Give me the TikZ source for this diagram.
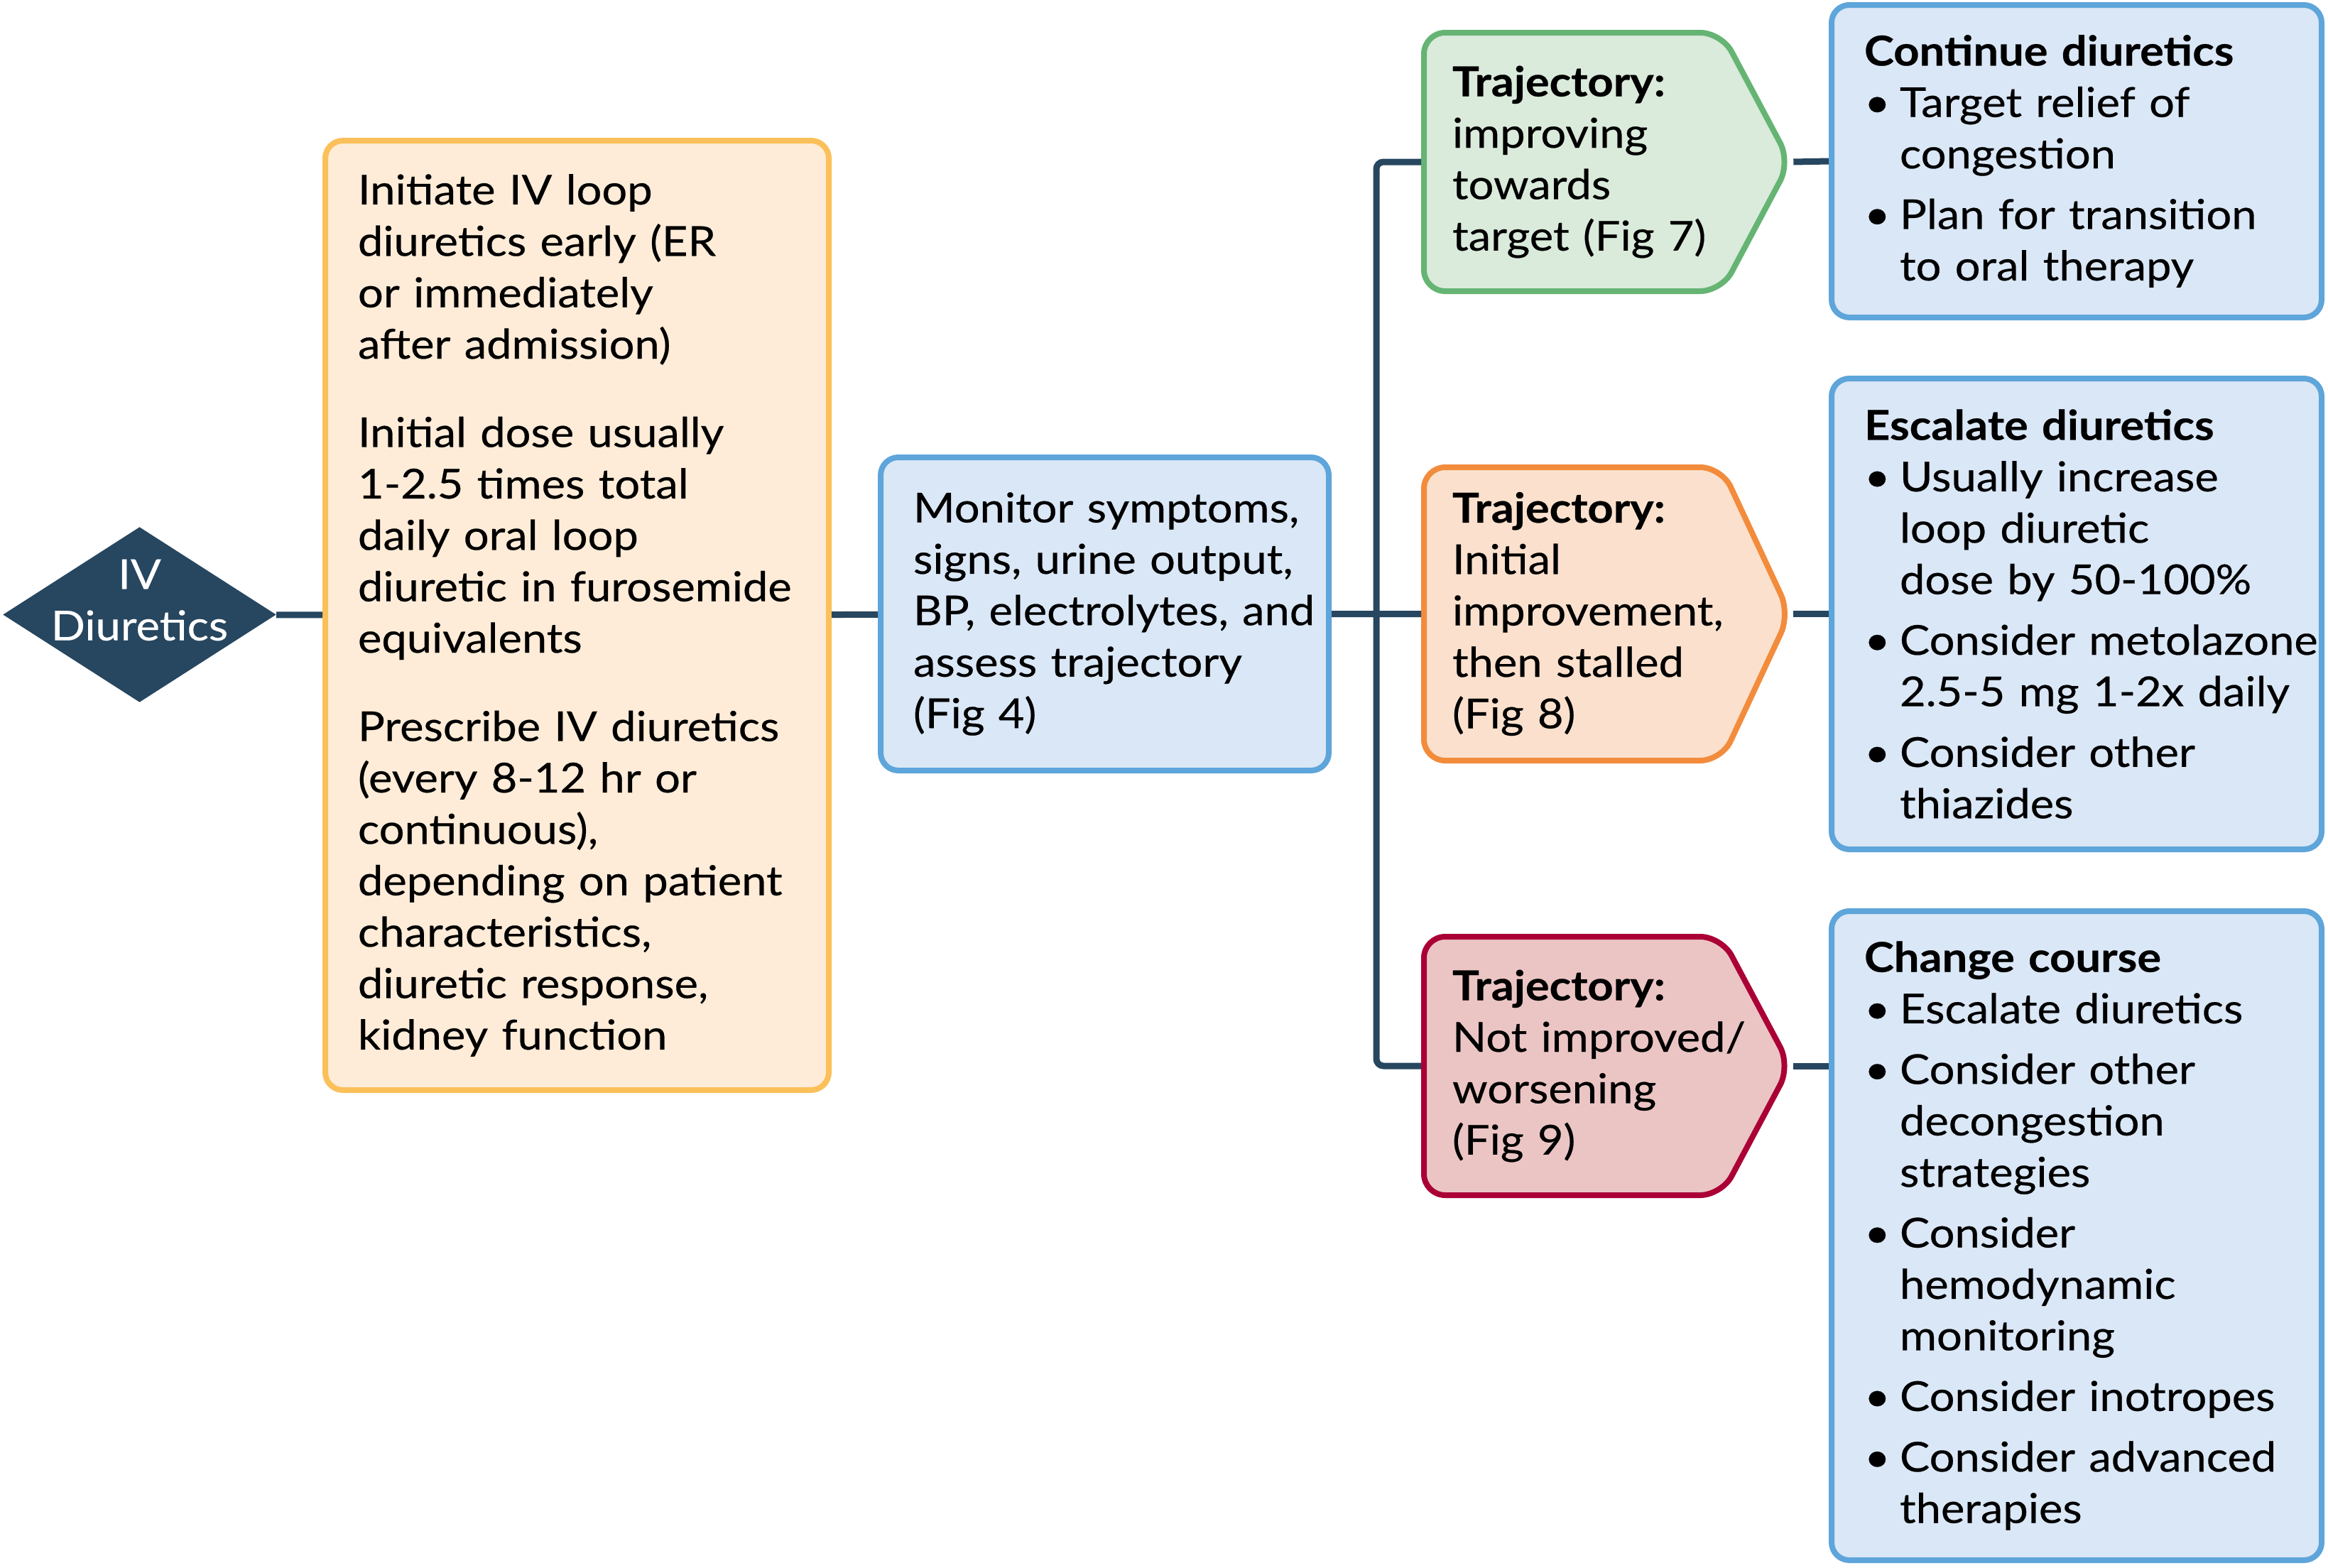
\documentclass[tikz,border=0pt]{standalone}
\usepackage{fontspec}
\setmainfont{Lato}[FakeStretch=1.09, FakeBold=0.4]
\usepackage{xcolor}
\usepackage{tikz}
\usetikzlibrary{shapes.geometric, shapes.symbols, positioning}
\definecolor{navy}{HTML}{27465F}
\definecolor{initline}{HTML}{FBC05A}
\definecolor{initfill}{HTML}{FEECD8}
\definecolor{blueline}{HTML}{5DA5DA}
\definecolor{bluefill}{HTML}{DAE7F6}
\definecolor{greenline}{HTML}{65B473}
\definecolor{greenfill}{HTML}{DAEADB}
\definecolor{orangeline}{HTML}{F28C3C}
\definecolor{orangefill}{HTML}{FBE1CD}
\definecolor{redline}{HTML}{AA0036}
\definecolor{redfill}{HTML}{EBC5C4}
\hyphenpenalty=10000
\exhyphenpenalty=10000
\newcommand{\itm}{\makebox[0.5cm][l]{\textbullet}}
\newcommand{\ind}{\hspace*{0.5cm}}
\tikzstyle{decision} = [diamond, fill=navy, inner sep=0pt, minimum width=3.85cm, minimum height=2.47cm]
\tikzstyle{txt} = [font=\fontsize{16.5}{20.6}\selectfont]
\tikzstyle{box} = [rectangle, rounded corners=0.25cm, line width=0.08cm, inner xsep=0.46cm, align=left, txt]
\tikzstyle{plan} = [box, draw=blueline, fill=bluefill, text width=5.98cm, anchor=west]
\tikzstyle{traj} = [signal, signal to=east, signal pointer angle=124, rounded corners=0.3cm, line width=0.08cm, text width=3.39cm, inner xsep=0.40cm, align=left, anchor=west, txt]
\tikzstyle{link} = [line width=0.09cm, draw=navy]

\begin{document}
\begin{tikzpicture}
	\useasboundingbox (0,0) rectangle (32.78,-22.08);
	\node (iv) [decision] at (1.965,-8.655) {};
	\node (ivtext) [txt, text=white, align=center] at (1.965,-8.45) {IV\\Diuretics};
	\node (init) [box, draw=initline, fill=initfill, text width=6.17cm, minimum height=13.37cm] at (8.125,-8.665) {Initiate IV loop\\ diuretics~early~(ER\\ or immediately\\ after admission)\\[0.52cm]
		Initial dose usually\\ 1-2.5~times~total\\ daily oral loop\\ diuretic~in~furosemide\\ equivalents\\[0.52cm]
		Prescribe~IV~diuretics\\ (every~8-12~hr~or\\ continuous),\\ depending~on~patient\\ characteristics,\\ diuretic~response,\\ kidney function};
	\node (monitor) [box, draw=blueline, fill=bluefill, text width=5.39cm, minimum height=4.41cm] at (15.555,-8.645) {Monitor~symptoms,\\ signs,~urine~output,\\ BP,~electrolytes,~and\\ assess~trajectory\\ (Fig~4)};
	\coordinate (fork) at (19.38,-8.645);
	\node (traj1) [traj, draw=greenline, fill=greenfill, minimum height=3.64cm] at (20.01,-2.28) {\textbf{Trajectory:}\\ improving\\ towards\\ target~(Fig~7)};
	\node (traj2) [traj, draw=orangeline, fill=orangefill, minimum height=4.13cm, signal pointer angle=130] at (20.01,-8.645) {\textbf{Trajectory:}\\ Initial\\ improvement,\\ then~stalled\\ (Fig~8)};
	\node (traj3) [traj, draw=redline, fill=redfill, minimum height=3.64cm] at (20.01,-15.01) {\textbf{Trajectory:}\\ \mbox{Not improved/}\\ worsening\\ (Fig~9)};
	\node (cont) [plan, minimum height=4.40cm] at (25.75,-2.27) {\textbf{Continue~diuretics}\\ \itm Target~relief~of\\ \ind congestion\\[0.13cm] \itm Plan~for~transition\\ \ind to~oral~therapy};
	\node (esc) [plan, minimum height=6.63cm] at (25.75,-8.645) {\textbf{Escalate~diuretics}\\ \itm Usually~increase\\ \ind loop~diuretic\\ \ind dose~by~50-100\%\\[0.13cm] \itm Consider~metolazone\\ \ind 2.5-5~mg~1-2x~daily\\[0.13cm] \itm Consider~other\\ \ind thiazides};
	\node (chg) [plan, minimum height=9.14cm] at (25.75,-17.40) {\textbf{Change~course}\\ \itm Escalate~diuretics\\[0.13cm] \itm Consider~other\\ \ind decongestion\\ \ind strategies\\[0.13cm] \itm Consider\\ \ind hemodynamic\\ \ind monitoring\\[0.13cm] \itm Consider~inotropes\\[0.13cm] \itm Consider~advanced\\ \ind therapies};
	\draw [link] (iv) -- (init);
	\draw [link] (init) -- (monitor);
	\draw [link] (monitor) -- (traj2);
	\draw [link, rounded corners=0.1cm] (traj1.west) -| (fork) |- (traj3.west);
	\draw [link] (traj1.east) -- (cont.west);
	\draw [link] (traj2.east) -- (esc.west);
	\draw [link] (traj3.east) -- (traj3.east -| chg.west);
\end{tikzpicture}
\end{document}
